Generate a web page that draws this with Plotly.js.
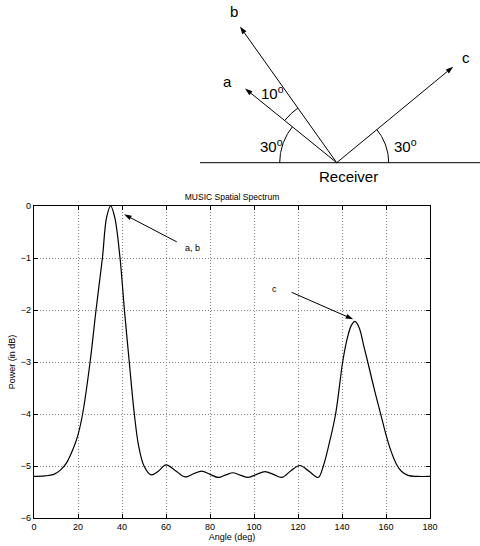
<!DOCTYPE html>
<html><head><meta charset="utf-8">
<script src="https://cdn.plot.ly/plotly-3.0.1.min.js"></script>
<style>html,body{margin:0;padding:0;background:#fff}#chart{width:480px;height:546px}</style>
</head><body><div id="chart"></div>
<script>
// ---- data ----
const angleDeg = [0, 5, 9, 12, 14.8, 17.9, 20, 22.1, 25.5, 28.2, 31.1, 33, 34.85, 36.7, 39.1, 41.1, 43.3, 45.6, 47.5, 50,
  53.2, 56.5, 60, 64, 68.6, 72.5, 76.2, 80, 83.8, 87.2, 90.6, 94, 97.4, 101.2, 105, 108.8, 112.6, 116.8, 120.9, 125, 129.2,
  131.5, 134, 137.1, 140.3, 142.2, 144.2, 145.9, 147.8, 150, 151.7, 155, 157.7, 160, 162, 164.8, 167, 170, 174, 180];
const powerDb = [-5.20, -5.19, -5.16, -5.08, -4.94, -4.66, -4.40, -4.0, -3.0, -2.0, -1.0, -0.22, 0, -0.22, -1.0, -2.0, -3.0, -4.0, -4.6, -5.0,
  -5.17, -5.10, -4.98, -5.08, -5.21, -5.15, -5.10, -5.16, -5.22, -5.17, -5.13, -5.18, -5.22, -5.16, -5.11, -5.16, -5.22, -5.09, -4.99, -5.10, -5.22,
  -5.0, -4.6, -4.0, -3.0, -2.58, -2.3, -2.22, -2.34, -2.71, -3.0, -3.58, -4.02, -4.40, -4.68, -4.97, -5.1, -5.18, -5.2, -5.2];
const xTickVals = [0, 20, 40, 60, 80, 100, 120, 140, 160, 180];
const yTickVals = [-6, -5, -4, -3, -2, -1, 0];
const peakNotes = ['a, b', 'c'];

// diagram content
const rayNames = ['a', 'b', 'c'];
const rayAnglesDeg = [141, 125.4, 39.5];
const arcLabels = ['30<sup>o</sup>', '10<sup>o</sup>', '30<sup>o</sup>'];
const receiverLabel = 'Receiver';

// ---- geometry / styles (not data) ----
const rayLengths = [118, 167, 151];
const rayLabelOffsets = [[-18, 7], [-6, 15], [13, 9]];
const arcSpecs = [{from: 180, to: rayAnglesDeg[0], r: 57}, {from: rayAnglesDeg[0], to: rayAnglesDeg[1], r: 67}, {from: 0, to: rayAnglesDeg[2], r: 52}];
const arcLabelPos = [[-78.4, 17.7], [-77.4, 70.4], [55, 17.7]];
const noteArrows = [
  {head: [40.9, -0.16], tail: [64.9, -0.69], text: [72.1, -0.80]},
  {head: [145.1, -2.18], tail: [117.1, -1.66], text: [109.5, -1.60]}
];

const FONT = 'Liberation Sans, Arial, Helvetica, sans-serif';
const rad = d => d * Math.PI / 180;

function arrowTrace(x0, y0, x1, y1, xa, ya, size) {
  return {x: [x0, x1], y: [y0, y1], type: 'scatter', mode: 'lines+markers', cliponaxis: false,
    line: {color: '#000', width: 1},
    marker: {symbol: 'arrow', size: [0, size], opacity: [0, 1], angleref: 'previous', color: '#000', line: {width: 0}},
    xaxis: xa, yaxis: ya, hoverinfo: 'skip'};
}

const traces = [{
  x: angleDeg, y: powerDb, type: 'scatter', mode: 'lines',
  line: {color: '#000', width: 1.2, shape: 'spline', smoothing: 1},
  xaxis: 'x', yaxis: 'y', hoverinfo: 'skip'
}];

// baseline of the diagram
traces.push({x: [-136.7, 143.3], y: [0, 0], type: 'scatter', mode: 'lines', line: {color: '#000', width: 1},
  xaxis: 'x2', yaxis: 'y2', hoverinfo: 'skip'});
// arcs
arcSpecs.forEach(a => {
  const xs = [], ys = [];
  for (let i = 0; i <= 30; i++) {
    const t = rad(a.from + (a.to - a.from) * i / 30);
    xs.push(a.r * Math.cos(t)); ys.push(a.r * Math.sin(t));
  }
  traces.push({x: xs, y: ys, type: 'scatter', mode: 'lines', line: {color: '#000', width: 1},
    xaxis: 'x2', yaxis: 'y2', hoverinfo: 'skip'});
});

const annotations = [];
// rays
rayNames.forEach((n, i) => {
  const tx = rayLengths[i] * Math.cos(rad(rayAnglesDeg[i]));
  const ty = rayLengths[i] * Math.sin(rad(rayAnglesDeg[i]));
  traces.push(arrowTrace(0, 0, tx, ty, 'x2', 'y2', 8));
  annotations.push({xref: 'x2', yref: 'y2', x: tx + rayLabelOffsets[i][0], y: ty + rayLabelOffsets[i][1], text: n,
    showarrow: false, font: {family: FONT, size: 15, color: '#000'}, xanchor: 'center', yanchor: 'middle'});
});
arcLabels.forEach((t, i) => {
  annotations.push({xref: 'x2', yref: 'y2', x: arcLabelPos[i][0], y: arcLabelPos[i][1], text: t, showarrow: false,
    font: {family: FONT, size: 15, color: '#000'}, xanchor: 'left', yanchor: 'middle'});
});
annotations.push({xref: 'x2', yref: 'y2', x: 11.3, y: -14, text: receiverLabel, showarrow: false,
  font: {family: FONT, size: 15, color: '#000'}, xanchor: 'center', yanchor: 'middle'});

// notes in the spectrum
peakNotes.forEach((n, i) => {
  const a = noteArrows[i];
  traces.push(arrowTrace(a.tail[0], a.tail[1], a.head[0], a.head[1], 'x', 'y', 8));
  annotations.push({xref: 'x', yref: 'y', x: a.text[0], y: a.text[1], text: n, showarrow: false,
    font: {family: FONT, size: 9, color: '#000'}, xanchor: 'center', yanchor: 'middle'});
});

const axisCommon = {
  ticks: 'inside', ticklen: 4, tickwidth: 1, tickcolor: '#000',
  showline: true, linecolor: '#000', linewidth: 1.3, mirror: 'ticks',
  showgrid: true, gridcolor: '#808080', griddash: '1px,2px', gridwidth: 1,
  zeroline: false, fixedrange: true, tickfont: {family: FONT, size: 9, color: '#000'}
};

const layout = {
  width: 480, height: 546,
  margin: {l: 34, r: 0, t: 0, b: 28},
  paper_bgcolor: '#fff', plot_bgcolor: '#fff', showlegend: false,
  font: {family: FONT, size: 9, color: '#000'},
  title: {text: 'MUSIC Spatial Spectrum', font: {family: FONT, size: 8.5, color: '#000'},
    xref: 'container', yref: 'container', x: 232 / 480, y: 1 - 197 / 546, xanchor: 'center', yanchor: 'middle'},
  xaxis: Object.assign({}, axisCommon, {domain: [0, 396 / 446], range: [0, 180], tickvals: xTickVals,
    anchor: 'y', title: {text: 'Angle (deg)', font: {family: FONT, size: 9}, standoff: 0}}),
  yaxis: Object.assign({}, axisCommon, {domain: [0, 312 / 518], range: [-6, 0], tickvals: yTickVals,
    anchor: 'x', title: {text: 'Power (in dB)', font: {family: FONT, size: 9}, standoff: 3}}),
  xaxis2: {domain: [0, 1], range: [-302.7, 143.3], visible: false, anchor: 'y2', fixedrange: true},
  yaxis2: {domain: [(518 - 190) / 518, 1], range: [-27.3, 162.7], visible: false, anchor: 'x2', fixedrange: true},
  annotations: annotations
};

Plotly.newPlot('chart', traces, layout, {staticPlot: true, displayModeBar: false});
</script></body></html>
